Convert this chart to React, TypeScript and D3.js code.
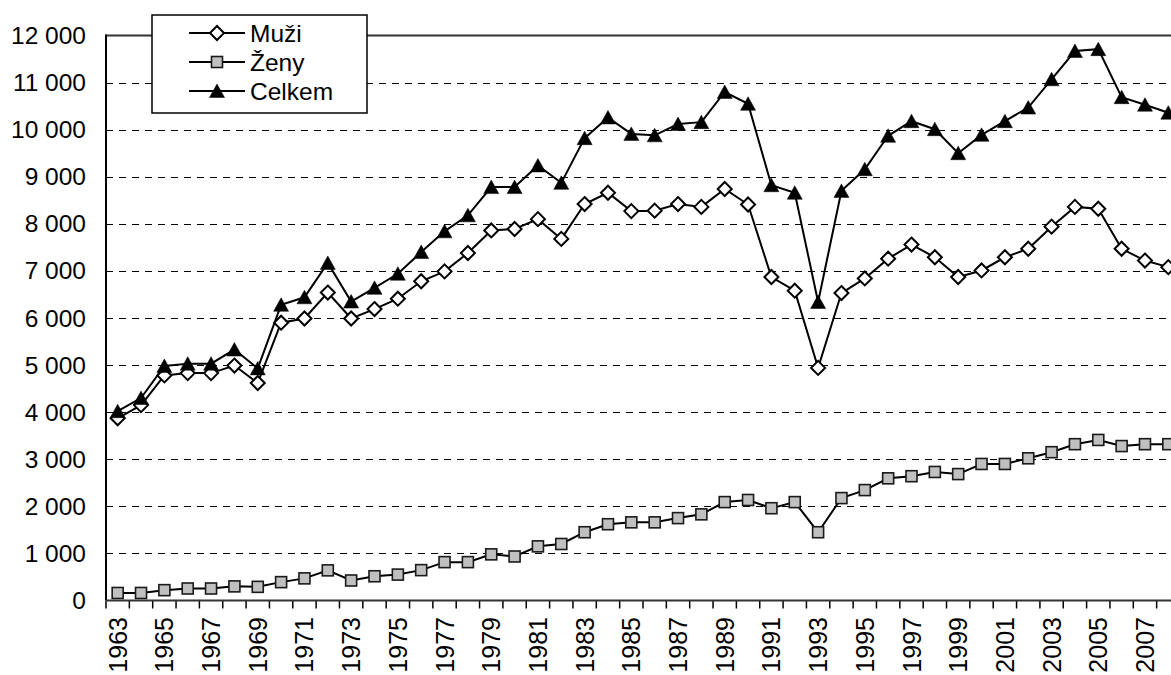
import React from "react";
import * as d3 from "d3";

const years: number[] = [
  1963, 1964, 1965, 1966, 1967, 1968, 1969, 1970, 1971, 1972, 1973, 1974, 1975, 1976, 1977, 1978,
  1979, 1980, 1981, 1982, 1983, 1984, 1985, 1986, 1987, 1988, 1989, 1990, 1991, 1992, 1993, 1994,
  1995, 1996, 1997, 1998, 1999, 2000, 2001, 2002, 2003, 2004, 2005, 2006, 2007, 2008,
];

const muzi: number[] = [
  3870, 4150, 4780, 4830, 4830, 4990, 4620, 5900, 5990, 6540, 5990, 6190, 6410, 6780, 6990, 7380,
  7860, 7890, 8100, 7680, 8420, 8660, 8270, 8280, 8420, 8360, 8740, 8410, 6870, 6580, 4940, 6530,
  6840, 7260, 7560, 7290, 6870, 7010, 7290, 7470, 7940, 8360, 8320, 7470, 7220, 7080,
];

const zeny: number[] = [
  160, 160, 220, 255, 255, 300, 290, 390, 470, 640, 425, 515, 550, 645, 815, 815,
  980, 935, 1150, 1200, 1450, 1620, 1660, 1660, 1750, 1830, 2090, 2135, 1960, 2090, 1450, 2175,
  2345, 2595, 2640, 2730, 2685, 2900, 2900, 3020, 3150, 3320, 3410, 3280, 3320, 3320,
];

const celkem: number[] = [
  4020, 4300, 4980, 5030, 5030, 5330, 4930, 6280, 6440, 7170, 6350, 6640, 6940, 7400, 7840, 8180,
  8780, 8780, 9240, 8870, 9820, 10260, 9910, 9880, 10120, 10160, 10800, 10550, 8820, 8660, 6340, 8700,
  9160, 9870, 10180, 10010, 9500, 9890, 10180, 10470, 11070, 11670, 11710, 10690, 10530, 10360,
];

const yTicks: number[] = [0, 1000, 2000, 3000, 4000, 5000, 6000, 7000, 8000, 9000, 10000, 11000, 12000];
const xLabelYears: number[] = years.filter((y) => (y - 1963) % 2 === 0);

const seriesNames = { muzi: "Muži", zeny: "Ženy", celkem: "Celkem" };

const W = 1171;
const H = 675;
const left = 106;
const right = 1180;
const top = 35.5;
const bottom = 600.5;
const FONT = "Arial, 'Liberation Sans', sans-serif";

function fmt(v: number): string {
  const s = String(v);
  if (s.length <= 3) return s;
  return s.slice(0, s.length - 3) + " " + s.slice(s.length - 3);
}

function Diamond({ x, y }: { x: number; y: number }) {
  const r = 7;
  return (
    <path
      d={`M${x},${y - r}L${x + r},${y}L${x},${y + r}L${x - r},${y}Z`}
      fill="#fff"
      stroke="#000"
      strokeWidth={2}
    />
  );
}

function Square({ x, y }: { x: number; y: number }) {
  const s = 11;
  return (
    <rect x={x - s / 2} y={y - s / 2} width={s} height={s} fill="#c0c0c0" stroke="#1a1a1a" strokeWidth={1.6} />
  );
}

function Triangle({ x, y }: { x: number; y: number }) {
  const w = 15;
  const h = 13;
  return (
    <path
      d={`M${x},${y - h / 2 - 0.5}L${x + w / 2},${y + h / 2}L${x - w / 2},${y + h / 2}Z`}
      fill="#000"
      stroke="#000"
      strokeWidth={0.5}
    />
  );
}

export default function App() {
  const x = d3.scaleBand<number>().domain(years).range([left, right]).padding(0);
  const cx = (yr: number) => (x(yr) as number) + x.bandwidth() / 2;
  const y = d3.scaleLinear().domain([0, 12000]).range([bottom, top]);

  const line = d3
    .line<number>()
    .x((_, i) => cx(years[i]))
    .y((d) => y(d));

  const tickEdges = years.map((yr) => x(yr) as number).concat([right]);

  return (
    <svg
      width={W}
      height={H}
      style={{ position: "absolute", left: 0, top: 0, background: "#fff" }}
      fontFamily={FONT}
    >
      <rect x={0} y={0} width={W} height={H} fill="#fff" />
      {yTicks
        .filter((t) => t > 0 && t < 12000)
        .map((t) => (
          <line
            key={t}
            x1={left}
            x2={right}
            y1={Math.round(y(t)) + 0.5}
            y2={Math.round(y(t)) + 0.5}
            stroke="#000"
            strokeWidth={1}
            strokeDasharray="7,6"
          />
        ))}
      <line x1={left} x2={right} y1={top} y2={top} stroke="#333" strokeWidth={2} />
      {yTicks.map((t) => (
        <text key={t} x={86} y={y(t)} dy="0.35em" textAnchor="end" fontSize={24.5} fill="#000">
          {fmt(t)}
        </text>
      ))}
      {tickEdges.map((tx, i) => (
        <line key={i} x1={tx} x2={tx} y1={bottom} y2={bottom + 8} stroke="#000" strokeWidth={1.5} />
      ))}
      {xLabelYears.map((yr) => (
        <text
          key={yr}
          transform={`translate(${cx(yr)},${617}) rotate(-90)`}
          textAnchor="end"
          dy="0.36em"
          fontSize={25}
          fill="#000"
        >
          {yr}
        </text>
      ))}
      <path d={line(zeny) || ""} fill="none" stroke="#000" strokeWidth={2} />
      <path d={line(muzi) || ""} fill="none" stroke="#000" strokeWidth={2} />
      <path d={line(celkem) || ""} fill="none" stroke="#000" strokeWidth={2} />
      {zeny.map((v, i) => (
        <Square key={"z" + i} x={cx(years[i])} y={y(v)} />
      ))}
      {muzi.map((v, i) => (
        <Diamond key={"m" + i} x={cx(years[i])} y={y(v)} />
      ))}
      {celkem.map((v, i) => (
        <Triangle key={"c" + i} x={cx(years[i])} y={y(v)} />
      ))}
      <line x1={left} x2={left} y1={top - 1} y2={bottom} stroke="#000" strokeWidth={2} />
      <line x1={left} x2={right} y1={bottom} y2={bottom} stroke="#333" strokeWidth={2} />
      <rect x={152} y={15} width={215} height={98} fill="#fff" stroke="#000" strokeWidth={1.5} />
      {[
        { name: seriesNames.muzi, yy: 33, M: Diamond },
        { name: seriesNames.zeny, yy: 62, M: Square },
        { name: seriesNames.celkem, yy: 91, M: Triangle },
      ].map(({ name, yy, M }) => (
        <g key={name}>
          <line x1={189} x2={245} y1={yy} y2={yy} stroke="#000" strokeWidth={2} />
          <M x={217} y={yy} />
          <text x={250} y={yy} dy="0.35em" fontSize={24.5} fill="#000">
            {name}
          </text>
        </g>
      ))}
    </svg>
  );
}
